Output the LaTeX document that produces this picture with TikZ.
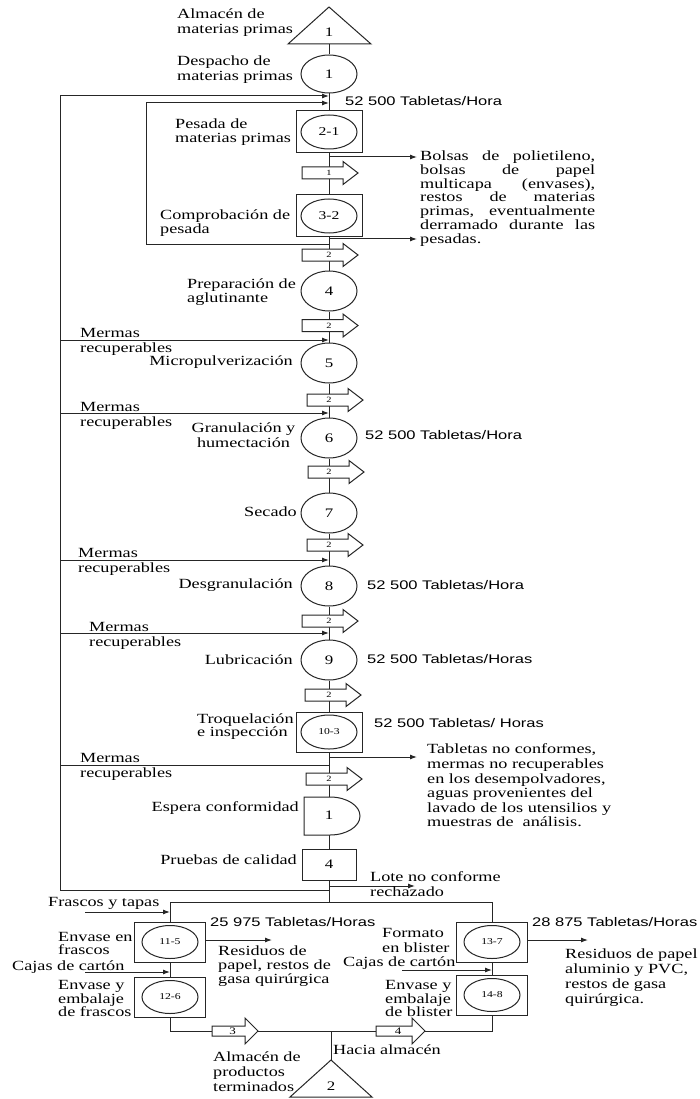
\documentclass[tikz,border=0pt]{standalone}
\usepackage{fontspec}
\setmainfont{Liberation Serif}[FakeStretch=1.3]
\newfontfamily\sansf{Liberation Sans}[FakeStretch=1.32]
\usetikzlibrary{shapes.geometric,arrows.meta}
\tikzset{
  ln/.style={line width=1pt, draw=black!85},
  arr/.style={ln, -{Latex[length=7pt,width=5pt]}},
  circ/.style={ellipse, draw=black!85, line width=1pt, fill=white, minimum width=56pt, minimum height=40pt, inner sep=0pt, font=\fontsize{13}{13}\selectfont},
  icirc/.style={ellipse, draw=black!85, line width=1pt, fill=white, minimum width=56pt, minimum height=34pt, inner sep=0pt},
  sq/.style={rectangle, draw=black!85, line width=1pt, fill=white, minimum width=66pt, minimum height=42pt, inner sep=0pt, font=\fontsize{13}{13}\selectfont},
  lbl/.style={font=\fontsize{14}{15}\selectfont, inner sep=0pt, align=left, anchor=west},
  rlbl/.style={font=\fontsize{14}{15}\selectfont, inner sep=0pt, align=right, anchor=east},
  sans/.style={font=\sansf\fontsize{12.5}{14}\selectfont, inner sep=0pt, anchor=west},
  num/.style={font=\fontsize{13}{13}\selectfont, inner sep=0pt},
  small/.style={font=\fontsize{8}{8}\selectfont, inner sep=0pt},
}
\newcommand\barr[4]{% name, left x, centre y, label
  \draw[ln, fill=white] (#2,#3-6) -- ++(41,0) -- ++(0,-5.5) -- ++(15,11.5) -- ++(-15,11.5) -- ++(0,-5.5) -- ++(-41,0) -- cycle;
  \node[small] (#1) at (329,#3) {#4};}
\newcommand\barrb[5]{% name, left x, centre y, body length, label
  \draw[ln, fill=white] (#2,#3-5) -- ++(#4,0) -- ++(0,-8) -- ++(13,13) -- ++(-13,13) -- ++(0,-8) -- ++(-#4,0) -- cycle;
  \node[font=\fontsize{10}{10}\selectfont, inner sep=0pt] (#1) at (#2+#4/2+4,#3) {#5};}
\newcommand\jline[1]{\makebox[175pt][s]{#1}}
\begin{document}
\begin{tikzpicture}[x=1pt,y=-1pt]
\useasboundingbox (0,0) rectangle (700,1099);
\fill[white] (0,0) rectangle (700,1099);

% ---------- main column shapes ----------
\draw[ln, fill=white] (329,7) -- (371,44) -- (288,44) -- cycle;
\node[num] (T1) at (329,32) {1};
\coordinate (T1b) at (329,44);
\node[circ, minimum height=38pt] (C1) at (329,74) {1};
\node[sq] (S21) at (329,132) {};
\node[icirc, font=\fontsize{12}{12}\selectfont] (S21c) at (329,132) {2-1};
\node[sq] (S32) at (329,216) {};
\node[icirc, font=\fontsize{12}{12}\selectfont] (S32c) at (329,216) {3-2};
\node[circ] (C4) at (329,291) {4};
\node[circ] (C5) at (329,363) {5};
\node[circ] (C6) at (329,438) {6};
\node[circ] (C7) at (329,513) {7};
\node[circ] (C8) at (329,586) {8};
\node[circ] (C9) at (329,660) {9};
\node[sq, minimum height=40pt] (S103) at (329,732) {};
\node[icirc, font=\fontsize{9}{9}\selectfont] (S103c) at (329,732) {10-3};
\coordinate (Dt) at (329,797);
\coordinate (Db) at (329,835);
\node[sq, minimum width=54pt, minimum height=31pt] (B4) at (329,864.5) {4};
\coordinate (J1) at (329,902);

% spine
\draw[ln] (T1b) -- (C1.north);
\draw[ln] (C1.south) -- (S21.north);
\draw[ln] (S21.south) -- (S32.north);
\draw[ln] (S32.south) -- (C4.north);
\draw[ln] (C4.south) -- (C5.north);
\draw[ln] (C5.south) -- (C6.north);
\draw[ln] (C6.south) -- (C7.north);
\draw[ln] (C7.south) -- (C8.north);
\draw[ln] (C8.south) -- (C9.north);
\draw[ln] (C9.south) -- (S103.north);
\draw[ln] (S103.south) -- (Dt);
\draw[ln] (Db) -- (B4.north);
\draw[ln] (B4.south) -- (J1);

% delay shape
\draw[ln, fill=white] (304,797) -- (Dt) -- (330,797) .. controls (346.6,797) and (360,805.5) .. (360,816)
  .. controls (360,826.5) and (346.6,835) .. (330,835) -- (Db) -- (304,835) -- cycle;
\node[num] (D) at (329,815) {1};

% ---------- loops ----------
\coordinate (Lt) at (60,96);   \coordinate (Mt) at (329,96);
\coordinate (Lb) at (60,890);  \coordinate (Mb) at (329,890);
\draw[arr] (Mb) -- (Lb) -- (Lt) -- (Mt);
\coordinate (Ia) at (329,244); \coordinate (Ib) at (146,244);
\coordinate (Ic) at (146,103); \coordinate (Id) at (329,103);
\draw[arr] (Ia) -- (Ib) -- (Ic) -- (Id);
\foreach \yy/\nm in {340/a,413/b,560/c,633/d}{
  \coordinate (ML\nm) at (60,\yy); \coordinate (MR\nm) at (329,\yy);
  \draw[arr] (ML\nm) -- (MR\nm);}
\coordinate (MLe) at (60,765); \coordinate (MRe) at (329,765);
\draw[ln] (MLe) -- (MRe);

% outputs to right
\coordinate (P1) at (329,157); \coordinate (Q1) at (417,157);
\coordinate (P2) at (329,239); \coordinate (Q2) at (417,239);
\coordinate (P3) at (329,757); \coordinate (Q3) at (417,757);
\coordinate (P4) at (329,886); \coordinate (Q4) at (415,886);
\draw[arr] (P1) -- (Q1);
\draw[arr] (P2) -- (Q2);
\draw[arr] (P3) -- (Q3);
\draw[arr] (P4) -- (Q4);

% block arrows
\barr{A1}{302}{173}{1}
\barr{A2}{302}{255}{2}
\barr{A3}{302}{325.5}{2}
\barr{A4}{307}{400}{2}
\barr{A5}{308}{472}{2}
\barr{A6}{307}{545}{2}
\barr{A7}{302}{621}{2}
\barr{A8}{305}{695}{2}
\barr{A9}{306}{779}{2}

% ---------- labels main column ----------
\node[lbl] (tA) at (177,22.5) {Almacén de\\materias primas};
\node[lbl] (tB) at (177,69.5) {Despacho de\\materias primas};
\node[lbl, font=\fontsize{14}{14}\selectfont] (tC) at (175,132.5) {Pesada de\\materias primas};
\node[lbl, font=\fontsize{14}{14}\selectfont] (tD) at (160,223) {Comprobación de\\pesada};
\node[lbl, font=\fontsize{14}{14}\selectfont] (tE) at (187,292) {Preparación de\\aglutinante};
\node[rlbl] (tF) at (293,362) {Micropulverización};
\node[font=\fontsize{14}{15}\selectfont, inner sep=0pt, align=center] (tG) at (243.5,435.5) {Granulación y\\humectación};
\node[rlbl] (tH) at (297,512) {Secado};
\node[rlbl] (tI) at (293,585) {Desgranulación};
\node[rlbl] (tJ) at (293,660) {Lubricación};
\node[lbl, font=\fontsize{14}{13.5}\selectfont] (tK) at (197,726.5) {Troquelación\\e inspección};
\node[rlbl] (tL) at (299,808) {Espera conformidad};
\node[rlbl] (tM) at (297,860) {Pruebas de calidad};
\node[lbl] (mA) at (80,342) {Mermas\\recuperables};
\node[lbl] (mB) at (80,415.5) {Mermas\\recuperables};
\node[lbl] (mC) at (78,562) {Mermas\\recuperables};
\node[lbl] (mD) at (89,636) {Mermas\\recuperables};
\node[lbl] (mE) at (80,767) {Mermas\\recuperables};

\node[sans] (r1) at (345,101) {52 500 Tabletas/Hora};
\node[sans] (r2) at (365,435) {52 500 Tabletas/Hora};
\node[sans] (r3) at (367,585) {52 500 Tabletas/Hora};
\node[sans] (r4) at (367,659) {52 500 Tabletas/Horas};
\node[sans] (r5) at (374,723) {52 500 Tabletas/ Horas};

\node[lbl, font=\fontsize{14}{13.8}\selectfont, text width=175pt] (wA) at (420,198.5) {%
\jline{Bolsas\hfill de\hfill polietileno,}\\
\jline{bolsas\hfill de\hfill papel}\\
\jline{multicapa\hfill (envases),}\\
\jline{restos\hfill de\hfill materias}\\
\jline{primas,\hfill eventualmente}\\
\jline{derramado\hfill durante\hfill las}\\
pesadas.};
\node[lbl, font=\fontsize{14}{14.6}\selectfont] (wB) at (427,785.5) {Tabletas no conformes,\\mermas no recuperables\\en los desempolvadores,\\aguas provenientes del\\lavado de los utensilios y\\muestras de~ análisis.};
\node[lbl] (wC) at (370,884.5) {Lote no conforme\\rechazado};

% ---------- bottom section ----------
\coordinate (J2) at (170,902);
\coordinate (J3) at (492,902);
\node[sq, minimum width=71pt, minimum height=40pt] (S115) at (170,942) {};
\node[icirc, minimum height=33pt, font=\fontsize{9}{9}\selectfont] (S115c) at (170,942) {11-5};
\node[sq, minimum width=71pt, minimum height=40pt] (S126) at (170,997) {};
\node[icirc, minimum height=33pt, font=\fontsize{9}{9}\selectfont] (S126c) at (170,997) {12-6};
\node[sq, minimum width=71pt, minimum height=40pt] (S137) at (492,942) {};
\node[icirc, minimum height=33pt, font=\fontsize{9}{9}\selectfont] (S137c) at (492,942) {13-7};
\node[sq, minimum width=71pt, minimum height=40pt] (S148) at (492,995) {};
\node[icirc, minimum height=33pt, font=\fontsize{9}{9}\selectfont] (S148c) at (492,995) {14-8};

\draw[ln] (J1) -- (J2) -- (S115.north);
\draw[ln] (J1) -- (J3) -- (S137.north);
\draw[ln] (S115.south) -- (S126.north);
\draw[ln] (S137.south) -- (S148.north);
\coordinate (K1) at (170,1031);
\coordinate (K2) at (331,1031);
\coordinate (K3) at (492,1031);
\coordinate (T2a) at (331,1060);
\draw[ln] (S126.south) -- (K1) -- (K3) -- (S148.south);
\draw[ln] (K2) -- (T2a);
\draw[ln, fill=white] (T2a) -- (372,1097) -- (290,1097) -- cycle;
\node[num] (T2) at (331,1086) {2};

\barrb{A10}{212}{1031}{33}{3}
\barrb{A11}{376}{1031}{36}{4}

\coordinate (F1) at (85,912);  \coordinate (F2) at (170,912);
\coordinate (G1) at (85,972);  \coordinate (G2) at (170,972);
\coordinate (G3) at (402,970); \coordinate (G4) at (492,970);
\coordinate (R1) at (272,940); \coordinate (R2) at (588,940);
\draw[arr] (F1) -- (F2);
\draw[arr] (G1) -- (G2);
\draw[arr] (G3) -- (G4);
\draw[arr] (S115.east |- R1) -- (R1);
\draw[arr] (S137.east |- R2) -- (R2);

\node[lbl] (bA) at (48,903) {Frascos y tapas};
\node[lbl, font=\fontsize{14}{13}\selectfont] (bB) at (58,943.5) {Envase en\\frascos};
\node[lbl] (bC) at (12,967) {Cajas de cartón};
\node[lbl, font=\fontsize{14}{13.5}\selectfont] (bD) at (58,998.5) {Envase y\\embalaje\\de frascos};
\node[lbl, font=\fontsize{14}{14}\selectfont] (bE) at (218,966) {Residuos de\\papel, restos de\\gasa quirúrgica};
\node[lbl] (bF) at (213,1072) {Almacén de\\productos\\terminados};
\node[lbl] (bG) at (333,1050) {Hacia almacén};
\node[lbl] (bH) at (382,940.5) {Formato\\en blister};
\node[lbl] (bI) at (343,963) {Cajas de cartón};
\node[lbl, font=\fontsize{14}{13.5}\selectfont] (bJ) at (385,998.5) {Envase y\\embalaje\\de blister};
\node[lbl] (bK) at (565,977.5) {Residuos de papel\\aluminio y PVC,\\restos de gasa\\quirúrgica.};
\node[sans] (r6) at (210,922) {25 975 Tabletas/Horas};
\node[sans] (r7) at (532,922) {28 875 Tabletas/Horas};
\end{tikzpicture}
\end{document}
